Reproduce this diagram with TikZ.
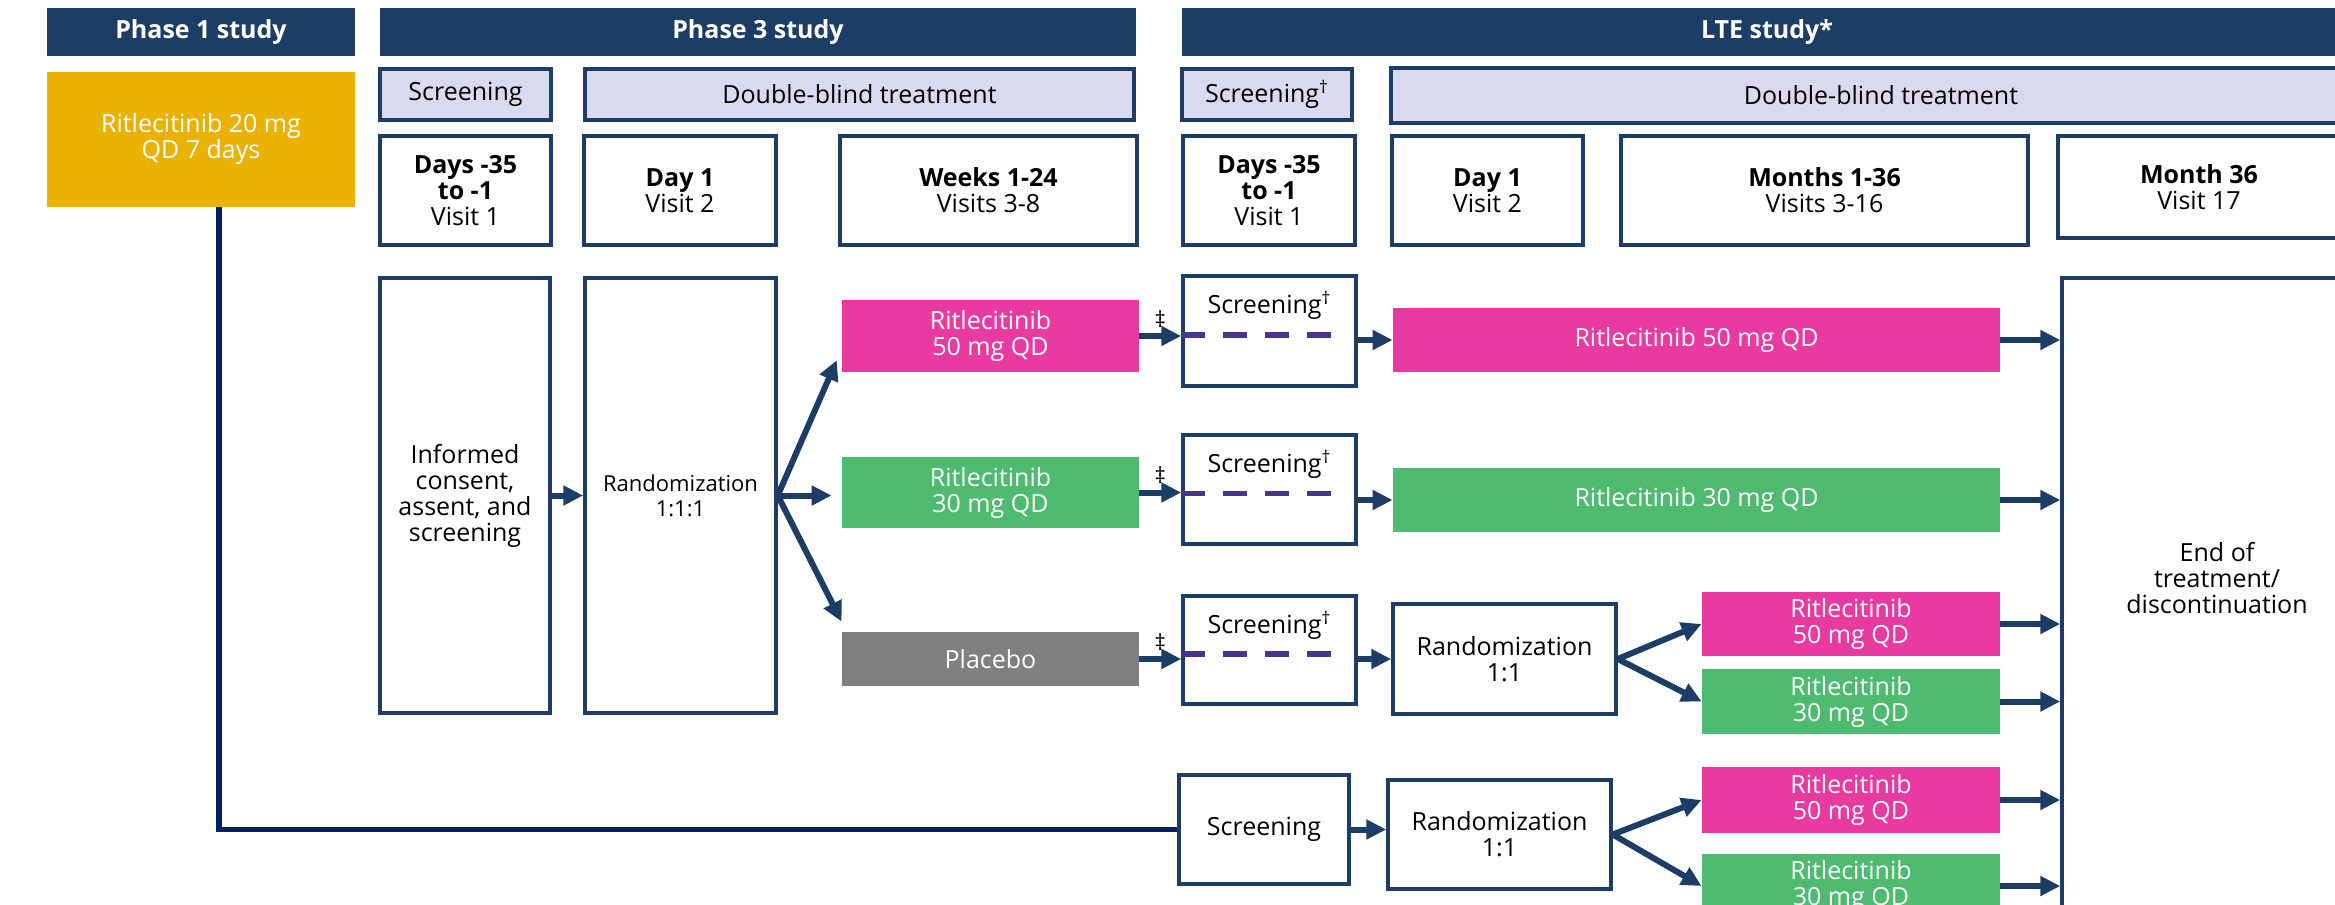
\documentclass[tikz,border=0pt]{standalone}
\usepackage{fontspec}
\setmainfont{Open Sans}
\definecolor{trialnavy}{RGB}{28,61,101}
\definecolor{lavender}{RGB}{217,218,240}
\definecolor{doseyellow}{RGB}{233,178,0}
\definecolor{dosepink}{RGB}{233,58,161}
\definecolor{dosegreen}{RGB}{79,187,112}
\definecolor{placebogray}{RGB}{128,128,128}
\definecolor{dashpurple}{RGB}{74,52,142}
\definecolor{linkblue}{RGB}{0,32,96}
\usetikzlibrary{arrows.meta, positioning}

\tikzset{
  sized/.style 2 args={minimum width=#1*0.5pt, minimum height=#2*0.5pt},
  hdr/.style={fill=trialnavy, text=white, font=\fontsize{12.5}{13}\selectfont\bfseries, inner sep=0pt},
  period/.style={draw=trialnavy, line width=1.75pt, fill=lavender, inner sep=0pt},
  visit/.style={draw=trialnavy, line width=1.75pt, fill=white, align=center, inner sep=2pt},
  dose/.style={text=white, align=center, inner sep=0pt},
  arr/.style={draw=trialnavy, line width=3pt, -{Triangle[length=10pt, width=9.5pt]}},
  dashline/.style={draw=dashpurple, line width=2.75pt, dash pattern=on 12pt off 9pt, shorten >=10pt},
  ddag/.style={above, yshift=2pt, inner sep=1pt, text=black, font=\fontsize{11}{11}\selectfont},
  scrlabel/.style={label={[anchor=north, yshift=-5pt]north:Screening\textsuperscript{\textdagger}}}
}

\begin{document}
\begin{tikzpicture}[x=0.5pt, y=-0.5pt, font=\fontsize{12.5}{13}\selectfont]
  \useasboundingbox (0,0) rectangle (2335,905);
  \clip (0,0) rectangle (2335,905);

  % study headers
  \node[hdr, sized={308}{48}] (hdrone) at (201,32) {Phase 1 study};
  \node[hdr, sized={756}{48}] (hdrthree) at (758,32) {Phase 3 study};
  \node[hdr, sized={1170}{48}] (hdrlte) at (1767,32) {LTE study*};

  \node[dose, fill=doseyellow, sized={308}{135}] (phaseone) at (201,139.5) {Ritlecitinib 20 mg\\QD 7 days};

  % periods
  \node[period, sized={171}{51}] (scrA) at (465.5,94.5) {Screening};
  \node[period, sized={549}{51}] (dbtA) at (859.5,94.5) {Double-blind treatment};
  \node[period, sized={170}{51}] (scrB) at (1267,94.5) {Screening\textsuperscript{\textdagger}};
  \node[period, sized={980}{55}] (dbtB) at (1881,95.5) {Double-blind treatment};

  % visits
  \node[visit, sized={171}{109}] (visA1) at (465.5,190.5) {\textbf{Days -35}\\\textbf{to -1}\\Visit 1};
  \node[visit, sized={192}{109}] (visA2) at (680,190.5) {\textbf{Day 1}\\Visit 2};
  \node[visit, sized={297}{109}] (visA3) at (988.5,190.5) {\textbf{Weeks 1-24}\\Visits 3-8};
  \node[visit, sized={172}{109}] (visB1) at (1269,190.5) {\textbf{Days -35}\\\textbf{to -1}\\Visit 1};
  \node[visit, sized={191}{109}] (visB2) at (1487.5,190.5) {\textbf{Day 1}\\Visit 2};
  \node[visit, sized={407}{109}] (visB3) at (1824.5,190.5) {\textbf{Months 1-36}\\Visits 3-16};
  \node[visit, sized={282}{102}] (visB4) at (2199,187) {\textbf{Month 36}\\Visit 17};

  % phase 3
  \node[visit, sized={170}{435}] (consent) at (465,495.5) {Informed\\consent,\\assent, and\\screening};
  \node[visit, sized={191}{435}, font=\fontsize{11}{12.5}\selectfont] (randA) at (680.5,495.5) {Randomization\\1:1:1};
  \node[dose, fill=dosepink, sized={297}{72}] (armA1) at (990.5,336) {Ritlecitinib\\50 mg QD};
  \node[dose, fill=dosegreen, sized={297}{71}] (armA2) at (990.5,492.5) {Ritlecitinib\\30 mg QD};
  \node[dose, fill=placebogray, sized={297}{54}] (armA3) at (990.5,659) {Placebo};

  % LTE
  \node[visit, scrlabel, sized={173}{110}] (scrOne) at (1269.5,331) {};
  \node[visit, scrlabel, sized={173}{109}] (scrTwo) at (1269.5,489.5) {};
  \node[visit, scrlabel, sized={173}{108}] (scrThree) at (1269.5,650) {};
  \node[dose, fill=dosepink, sized={607}{64}] (lteA1) at (1696.5,340) {Ritlecitinib 50 mg QD};
  \node[dose, fill=dosegreen, sized={607}{64}] (lteA2) at (1696.5,500) {Ritlecitinib 30 mg QD};
  \node[visit, sized={223}{110}] (randB) at (1504.5,659) {Randomization\\1:1};
  \node[dose, fill=dosepink, sized={298}{64}] (subB1) at (1851,624) {Ritlecitinib\\50 mg QD};
  \node[dose, fill=dosegreen, sized={298}{65}] (subB2) at (1851,701.5) {Ritlecitinib\\30 mg QD};
  \node[visit, sized={170}{109}] (scrC) at (1264,829.5) {Screening};
  \node[visit, sized={223}{109}] (randC) at (1499.5,834.5) {Randomization\\1:1};
  \node[dose, fill=dosepink, sized={298}{66}] (subC1) at (1851,800) {Ritlecitinib\\50 mg QD};
  \node[dose, fill=dosegreen, sized={298}{64}] (subC2) at (1851,886) {Ritlecitinib\\30 mg QD};
  \node[visit, sized={310}{637}] (endtx) at (2217,596.5) {End of\\treatment/\\discontinuation\\[6pt]};

  \draw[dashline] ([yshift=-2pt]scrOne.west) -- ([yshift=-2pt]scrOne.east);
  \draw[dashline] ([yshift=-2pt]scrTwo.west) -- ([yshift=-2pt]scrTwo.east);
  \draw[dashline] ([yshift=-2pt]scrThree.west) -- ([yshift=-2pt]scrThree.east);

  \draw[linkblue, line width=2.75pt] ([xshift=9pt]phaseone.south) |- (scrC.west);

  \draw[arr] (consent.east) -- (randA.west);
  \draw[arr, shorten >=1pt] (randA.east) -- ([xshift=-2pt, yshift=7pt]armA1.south west);
  \draw[arr, shorten >=5pt] (randA.east) -- (randA.east -| armA2.west);
  \draw[arr] (randA.east) -- ([yshift=5pt]armA3.north west);

  \draw[arr] (armA1.east) -- node[ddag] {\textdaggerdbl} (armA1.east -| scrOne.west);
  \draw[arr] (armA2.east) -- node[ddag] {\textdaggerdbl} (armA2.east -| scrTwo.west);
  \draw[arr] (armA3.east) -- node[ddag] {\textdaggerdbl} (armA3.east -| scrThree.west);

  \draw[arr] (lteA1.west -| scrOne.east) -- (lteA1.west);
  \draw[arr] (lteA2.west -| scrTwo.east) -- (lteA2.west);
  \draw[arr] (randB.west -| scrThree.east) -- (randB.west);
  \draw[arr] (randB.east) -- (subB1.west);
  \draw[arr] (randB.east) -- (subB2.west);
  \draw[arr] (scrC.east) -- (scrC.east -| randC.west);
  \draw[arr] (randC.east) -- (subC1.west);
  \draw[arr] (randC.east) -- (subC2.west);

  \foreach \arm in {lteA1, lteA2, subB1, subB2, subC1, subC2}
    \draw[arr] (\arm.east) -- (\arm.east -| endtx.west);
\end{tikzpicture}
\end{document}
